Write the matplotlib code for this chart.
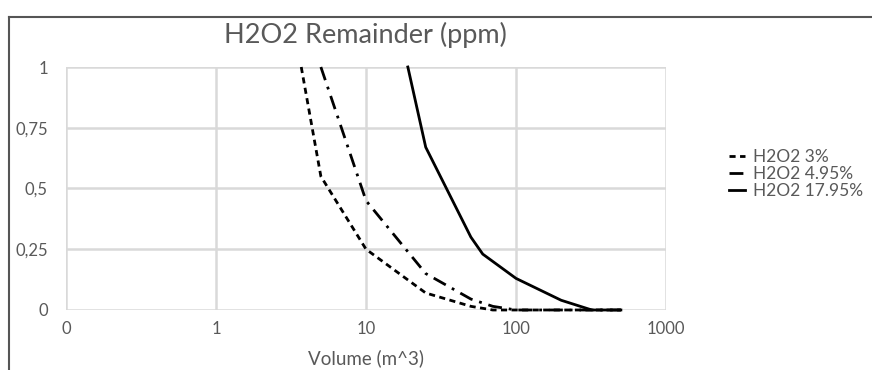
import numpy as np
import matplotlib
matplotlib.use("Agg")
import matplotlib.pyplot as plt
from matplotlib.lines import Line2D
from matplotlib.ticker import FixedLocator, FixedFormatter, NullLocator

# data (volume in m^3, remainder fraction)
vol_3 = [3.7, 5, 10, 25, 50, 70, 100, 200, 500]
rem_3 = [1.0, 0.55, 0.25, 0.07, 0.015, 0.0, 0.0, 0.0, 0.0]

vol_495 = [5, 10, 25, 50, 70, 100, 200, 500]
rem_495 = [1.0, 0.45, 0.15, 0.045, 0.015, 0.0, 0.0, 0.0]

vol_1795 = [19, 25, 50, 60, 100, 200, 320, 500]
rem_1795 = [1.0, 0.67, 0.30, 0.23, 0.13, 0.04, 0.0, 0.0]

labels = ["H2O2 3%", "H2O2 4.95%", "H2O2 17.95%"]
xticks = [0.1, 1, 10, 100, 1000]
xticklabels = ["0", "1", "10", "100", "1000"]
yticks = [0, 0.25, 0.5, 0.75, 1]
yticklabels = ["0", "0,25", "0,5", "0,75", "1"]

plt.rcParams['font.family'] = ['Lato', 'DejaVu Sans']
txt = '#595959'
grid = '#d9d9d9'

fig = plt.figure(figsize=(8.72, 3.7), dpi=100)
ax = fig.add_axes([0.0757, 0.1622, 0.6881, 0.6567])

ax.plot(vol_3, rem_3, color='black', lw=2, dashes=(2.2, 1.6), label=labels[0], clip_on=False)
ax.plot(vol_495, rem_495, color='black', lw=2, dashes=(5, 2.5, 1, 2.5), label=labels[1], clip_on=False)
ax.plot(vol_1795, rem_1795, color='black', lw=2, label=labels[2], clip_on=False)

ax.set_xscale('log')
ax.set_xlim(0.1, 1000)
ax.set_ylim(0, 1)
ax.xaxis.set_major_locator(FixedLocator(xticks))
ax.xaxis.set_major_formatter(FixedFormatter(xticklabels))
ax.xaxis.set_minor_locator(NullLocator())
ax.yaxis.set_major_locator(FixedLocator(yticks))
ax.yaxis.set_major_formatter(FixedFormatter(yticklabels))

for s in ax.spines.values():
    s.set_visible(False)
ax.grid(True, color=grid, lw=1.8)
ax.set_axisbelow(True)
ax.tick_params(length=0, labelsize=12, colors=txt, pad=8)
ax.tick_params(axis='y', pad=13)

ax.set_xlabel('Volume (m^3)', fontsize=13.5, color=txt, labelpad=9)
fig.text(0.419, 0.905, 'H2O2 Remainder (ppm)', fontsize=19.5, color=txt,
         ha='center', va='center')

leg = fig.legend(loc='center left', bbox_to_anchor=(0.818, 0.53), frameon=False,
                 fontsize=12.5, handlelength=0.9, handletextpad=0.5,
                 labelspacing=0.05, labelcolor=txt)

# frame of the cropped chart area
fig.add_artist(Line2D([0.0103, 0.0103], [0, 0.954], color='#555555', lw=1.5))
fig.add_artist(Line2D([0.0103, 1.0], [0.954, 0.954], color='#555555', lw=1.5))

fig.savefig('out.png', dpi=100)
